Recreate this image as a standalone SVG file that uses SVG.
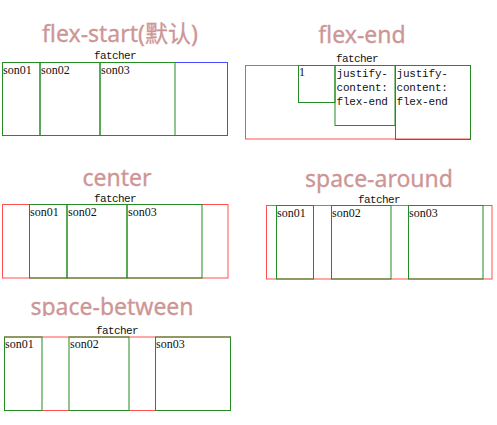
<svg xmlns="http://www.w3.org/2000/svg" width="497" height="425" viewBox="0 0 497 425">
<style>
.title{font-family:"Noto Sans","Noto Sans CJK SC",sans-serif;font-size:23px;fill:#cd9696;text-anchor:middle;stroke:#cd9696;stroke-width:0.3}
.fa{font-family:"Liberation Mono",monospace;font-size:11px;letter-spacing:-0.6px;fill:#111;text-anchor:middle}
.mono{font-family:"Liberation Mono",monospace;font-size:11px;letter-spacing:-0.2px;fill:#111}
.son{font-family:"Liberation Serif",serif;font-size:12px;fill:#111}
.blue{fill:none;stroke:#4a4aff;stroke-width:1}
.red{fill:none;stroke:#ff5050;stroke-width:1}
.green{fill:none;stroke:#238c23;stroke-width:1}
</style>
<defs>
<clipPath id="clipBetween"><rect x="0" y="280" width="240" height="36"/></clipPath>
</defs>
<rect width="497" height="425" fill="#fff"/>

<g id="flex-start">
<text class="title" x="120" y="42">flex-start(默认)</text>
<text class="fa" x="115" y="59">fatcher</text>
<rect class="blue" x="2.5" y="62.5" width="225" height="73"/>
<g id="fs-son01"><rect class="green" x="2.5" y="62.5" width="37.5" height="73"/><text class="son" x="3" y="74">son01</text></g>
<g id="fs-son02"><rect class="green" x="40" y="62.5" width="60" height="73"/><text class="son" x="41" y="74">son02</text></g>
<g id="fs-son03"><rect class="green" x="100" y="62.5" width="75" height="73"/><text class="son" x="101" y="74">son03</text></g>
</g>

<g id="flex-end">
<text class="title" x="362" y="43">flex-end</text>
<text class="fa" x="357" y="62">fatcher</text>
<rect class="red" x="245.5" y="65.5" width="225" height="73.5"/>
<g id="fe-son01"><rect class="green" x="298.5" y="65.5" width="36.5" height="37"/><text class="son" x="299" y="76">1</text></g>
<g id="fe-son02"><rect class="green" x="335" y="65.5" width="60" height="60"/>
<text class="mono" x="336.5" y="77">justify-</text>
<text class="mono" x="336.5" y="91">content:</text>
<text class="mono" x="336.5" y="104.5">flex-end</text></g>
<g id="fe-son03"><rect class="green" x="395.5" y="65.5" width="75" height="74"/>
<text class="mono" x="396.5" y="77">justify-</text>
<text class="mono" x="396.5" y="91">content:</text>
<text class="mono" x="396.5" y="104.5">flex-end</text></g>
</g>

<g id="center">
<text class="title" x="117" y="186">center</text>
<text class="fa" x="115" y="202">fatcher</text>
<rect class="red" x="2.5" y="204.5" width="225.5" height="73.5"/>
<g id="c-son01"><rect class="green" x="29.5" y="204.5" width="37.5" height="73.5"/><text class="son" x="30" y="216">son01</text></g>
<g id="c-son02"><rect class="green" x="67" y="204.5" width="60" height="73.5"/><text class="son" x="68" y="216">son02</text></g>
<g id="c-son03"><rect class="green" x="127" y="204.5" width="75" height="73.5"/><text class="son" x="128" y="216">son03</text></g>
</g>

<g id="space-around">
<text class="title" x="379" y="187">space-around</text>
<text class="fa" x="379" y="202.5">fatcher</text>
<rect class="red" x="266.5" y="205.5" width="225.5" height="73.5"/>
<g id="sa-son01"><rect class="green" x="276.5" y="205.5" width="37" height="73.5"/><text class="son" x="277" y="217">son01</text></g>
<g id="sa-son02"><rect class="green" x="331.5" y="205.5" width="59.5" height="73.5"/><text class="son" x="332" y="217">son02</text></g>
<g id="sa-son03"><rect class="green" x="408.5" y="205.5" width="74.5" height="73.5"/><text class="son" x="409" y="217">son03</text></g>
</g>

<g id="space-between">
<text class="title" x="112" y="315" clip-path="url(#clipBetween)">space-between</text>
<text class="fa" x="117" y="334">fatcher</text>
<rect class="red" x="4.5" y="337" width="226" height="73.5"/>
<g id="sb-son01"><rect class="green" x="4.5" y="337" width="37.5" height="73.5"/><text class="son" x="5" y="348">son01</text></g>
<g id="sb-son02"><rect class="green" x="69" y="337" width="60" height="73.5"/><text class="son" x="70" y="348">son02</text></g>
<g id="sb-son03"><rect class="green" x="155.5" y="337" width="75" height="73.5"/><text class="son" x="156" y="348">son03</text></g>
</g>
</svg>
